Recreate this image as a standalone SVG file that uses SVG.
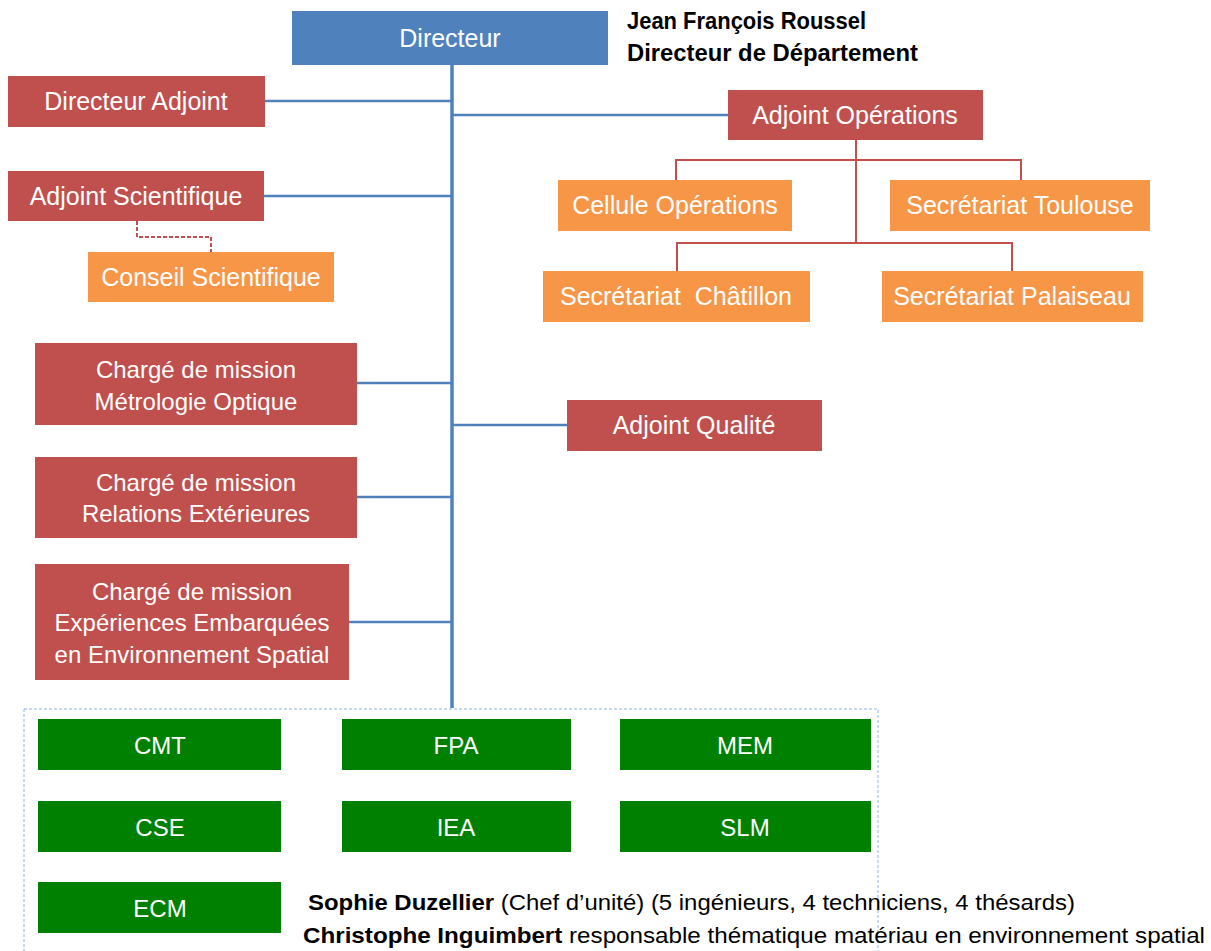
<svg xmlns="http://www.w3.org/2000/svg" width="1211" height="951" viewBox="0 0 1211 951">
<style>
text{font-family:"Liberation Sans",Arial,sans-serif;}
.t{fill:#fff;font-size:25px;text-anchor:middle;dominant-baseline:central;}
.m{fill:#fff;font-size:24px;text-anchor:middle;dominant-baseline:central;}
.g{fill:#fff;font-size:24px;text-anchor:middle;dominant-baseline:central;}
.blue{fill:#4F81BD;}
.red{fill:#C0504D;}
.org{fill:#F79646;}
.grn{fill:#008000;}
.cb{stroke:#4F81BD;fill:none;stroke-width:2.5;}
.cr{stroke:#C0504D;fill:none;stroke-width:2;}
.k{fill:#000;font-size:23px;}
</style>
<rect width="1211" height="951" fill="#fff"/>
<g id="connectors">
<line class="cb" x1="452" y1="65" x2="452" y2="708" style="stroke-width:3.5"/>
<line class="cb" x1="265" y1="101" x2="452" y2="101"/>
<line class="cb" x1="452" y1="115" x2="728" y2="115"/>
<line class="cb" x1="264" y1="196" x2="452" y2="196"/>
<line class="cb" x1="357" y1="383" x2="452" y2="383"/>
<line class="cb" x1="452" y1="425" x2="567" y2="425"/>
<line class="cb" x1="357" y1="497" x2="452" y2="497"/>
<line class="cb" x1="349" y1="622" x2="452" y2="622"/>
<path class="cr" d="M137 221 V237 H211 V252" stroke-dasharray="4 2"/>
<path class="cr" d="M856 140 V243"/>
<path class="cr" d="M676 180 V160 H1021 V180"/>
<path class="cr" d="M677 271 V243 H1012 V271"/>
<rect x="24" y="709" width="854" height="260" fill="none" stroke="#8DB3E2" stroke-width="1" stroke-dasharray="3 2"/>
</g>
<g id="directeur"><rect class="blue" x="292" y="11" width="316" height="54"/><text class="t" x="450" y="38">Directeur</text></g>
<g id="jfr"><text class="k" x="627" y="29" font-weight="bold" textLength="239" lengthAdjust="spacingAndGlyphs">Jean François Roussel</text><text class="k" x="627" y="61" font-weight="bold" textLength="291" lengthAdjust="spacingAndGlyphs">Directeur de Département</text></g>
<g id="directeur-adjoint"><rect class="red" x="8" y="76" width="257" height="51"/><text class="t" x="136" y="101">Directeur Adjoint</text></g>
<g id="adjoint-operations"><rect class="red" x="728" y="90" width="255" height="50"/><text class="t" x="855" y="115">Adjoint Opérations</text></g>
<g id="adjoint-scientifique"><rect class="red" x="8" y="171" width="256" height="50"/><text class="t" x="136" y="196">Adjoint Scientifique</text></g>
<g id="conseil-scientifique"><rect class="org" x="88" y="252" width="246" height="50"/><text class="t" x="211" y="277">Conseil Scientifique</text></g>
<g id="cellule-operations"><rect class="org" x="558" y="180" width="234" height="51"/><text class="t" x="675" y="205">Cellule Opérations</text></g>
<g id="secretariat-toulouse"><rect class="org" x="890" y="180" width="260" height="51"/><text class="t" x="1020" y="205">Secrétariat Toulouse</text></g>
<g id="secretariat-chatillon"><rect class="org" x="543" y="271" width="267" height="51"/><text class="t" x="676" y="296" style="white-space:pre">Secrétariat  Châtillon</text></g>
<g id="secretariat-palaiseau"><rect class="org" x="882" y="271" width="261" height="51"/><text class="t" x="1012" y="296">Secrétariat Palaiseau</text></g>
<g id="cm-metrologie"><rect class="red" x="35" y="343" width="322" height="82"/><text class="m" x="196" y="369">Chargé de mission</text><text class="m" x="196" y="401">Métrologie Optique</text></g>
<g id="adjoint-qualite"><rect class="red" x="567" y="400" width="255" height="51"/><text class="t" x="694" y="425">Adjoint Qualité</text></g>
<g id="cm-relations"><rect class="red" x="35" y="457" width="322" height="81"/><text class="m" x="196" y="482">Chargé de mission</text><text class="m" x="196" y="513">Relations Extérieures</text></g>
<g id="cm-experiences"><rect class="red" x="35" y="564" width="314" height="116"/><text class="m" x="192" y="591">Chargé de mission</text><text class="m" x="192" y="622">Expériences Embarquées</text><text class="m" x="192" y="654">en Environnement Spatial</text></g>
<g id="cmt"><rect class="grn" x="38" y="719" width="243" height="51"/><text class="g" x="160" y="745">CMT</text></g>
<g id="fpa"><rect class="grn" x="342" y="719" width="229" height="51"/><text class="g" x="456" y="745">FPA</text></g>
<g id="mem"><rect class="grn" x="620" y="719" width="251" height="51"/><text class="g" x="745" y="745">MEM</text></g>
<g id="cse"><rect class="grn" x="38" y="801" width="243" height="51"/><text class="g" x="160" y="827">CSE</text></g>
<g id="iea"><rect class="grn" x="342" y="801" width="229" height="51"/><text class="g" x="456" y="827">IEA</text></g>
<g id="slm"><rect class="grn" x="620" y="801" width="251" height="51"/><text class="g" x="745" y="827">SLM</text></g>
<g id="ecm"><rect class="grn" x="38" y="882" width="243" height="51"/><text class="g" x="160" y="908">ECM</text></g>
<g id="notes">
<text class="k" x="308" y="910" style="font-size:22px" textLength="767" lengthAdjust="spacingAndGlyphs"><tspan font-weight="bold">Sophie Duzellier</tspan> (Chef d’unité) (5 ingénieurs, 4 techniciens, 4 thésards)</text>
<text class="k" x="303" y="943" style="font-size:22px" textLength="902" lengthAdjust="spacingAndGlyphs"><tspan font-weight="bold">Christophe Inguimbert</tspan> responsable thématique matériau en environnement spatial</text>
</g>
</svg>
